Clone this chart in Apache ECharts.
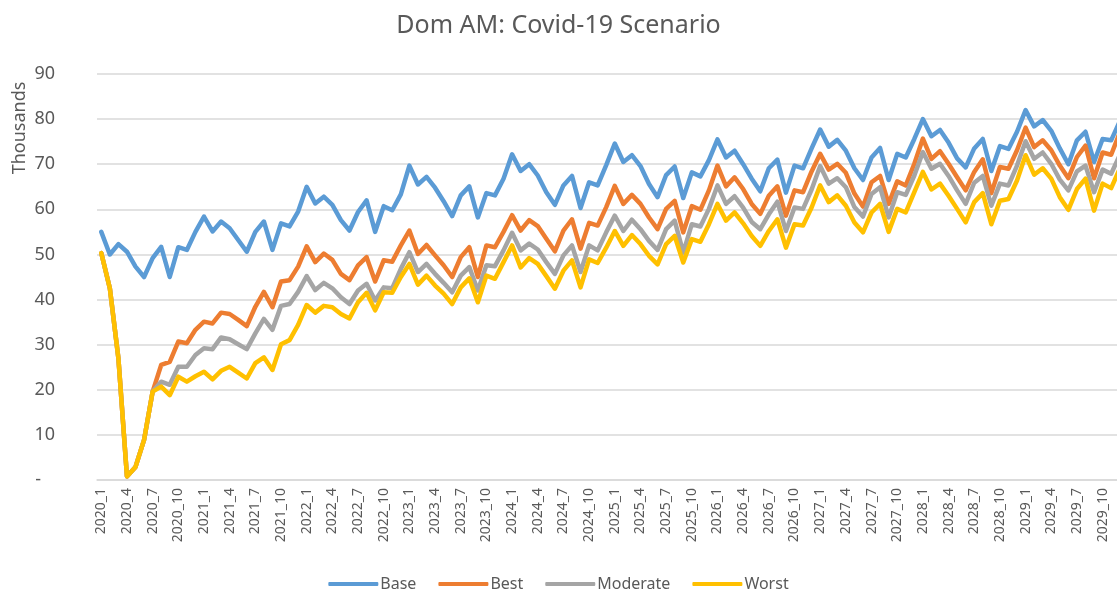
<!DOCTYPE html>
<html>
<head>
<meta charset="utf-8">
<title>Dom AM: Covid-19 Scenario</title>
<script src="https://cdn.jsdelivr.net/npm/echarts@6/dist/echarts.min.js"></script>
<style>
  html, body { margin: 0; padding: 0; background: #fff; }
  #main { width: 1117px; height: 592px; }
</style>
</head>
<body>
<div id="main"></div>
<script>
// monthly categories 2020_1 .. 2029_12
var months = [];
for (var y = 2020; y <= 2029; y++) {
    for (var m = 1; m <= 12; m++) months.push(y + '_' + m);
}

// values in thousands
var baseVals = [
    55, 50, 52.3, 50.6, 47.3, 45, 49.2, 51.7, 45, 51.6, 51, 55,
    58.4, 55.1, 57.3, 55.8, 53.2, 50.6, 55, 57.3, 51, 56.9, 56.2, 59.5,
    65, 61.3, 62.8, 61, 57.6, 55.3, 59.4, 62, 55, 60.7, 59.8, 63.3,
    69.7, 65.5, 67.2, 64.8, 61.8, 58.5, 63.1, 65.1, 58.2, 63.6, 63.1, 66.8,
    72.2, 68.5, 70, 67.5, 63.8, 61, 65.3, 67.4, 60.3, 66, 65.3, 69.8,
    74.6, 70.5, 72, 69.6, 65.6, 62.7, 67.6, 69.5, 62.5, 68.2, 67.3, 70.9,
    75.5, 71.5, 73, 70, 66.8, 64, 69.1, 71, 63.7, 69.7, 69.1, 73.5,
    77.7, 73.9, 75.4, 73, 69.1, 66.5, 71.5, 73.6, 66.5, 72.3, 71.5, 75.6,
    80, 76.2, 77.6, 74.8, 71.3, 69.3, 73.5, 75.6, 68.5, 74, 73.4, 77.2,
    82, 78.4, 79.8, 77.4, 73.5, 70, 75.3, 77.2, 70.5, 75.6, 75.3, 79.5
];
var bestVals = [
    50.3, 42.5, 27, 0.8, 2.9, 8.9, 19.6, 25.5, 26.2, 30.7, 30.3, 33.3,
    35.1, 34.7, 37.1, 36.8, 35.5, 34.1, 38.4, 41.7, 38.3, 44, 44.3, 47.3,
    51.8, 48.3, 50.2, 48.8, 45.7, 44.3, 47.6, 49.4, 44, 48.7, 48.4, 52,
    55.3, 50.1, 52.1, 49.8, 47.6, 45, 49.4, 51.6, 45, 52, 51.6, 55,
    58.7, 55.3, 57.6, 56.3, 53.5, 50.7, 55.3, 57.8, 51.3, 57, 56.4, 60.5,
    65.2, 61.2, 63.2, 61.2, 58.2, 55.6, 60.1, 61.9, 54.9, 60.7, 59.9, 64.2,
    69.7, 65.1, 67.1, 64.5, 61.2, 59, 63, 65.1, 58.6, 64.2, 63.8, 68.4,
    72.3, 68.8, 70.1, 68.1, 63.5, 60.6, 66, 67.4, 61.2, 66.2, 65.3, 70.1,
    75.7, 71.2, 72.9, 70.1, 67.1, 64.2, 68.3, 71.1, 63.6, 69.4, 69, 73.1,
    78.1, 73.8, 75.3, 73.1, 69.7, 66.9, 71.6, 74.1, 66.9, 72.6, 72.1, 77
];
var moderateVals = [
    50.3, 42.5, 27, 0.8, 2.9, 8.9, 19.6, 21.8, 21.1, 25.1, 25.1, 27.7,
    29.2, 29, 31.6, 31.2, 30.1, 29, 32.5, 35.7, 33.3, 38.6, 39, 41.7,
    45.2, 42.1, 43.7, 42.5, 40.5, 39, 42, 43.5, 39.8, 42.7, 42.5, 46.8,
    50.5, 46.1, 47.9, 45.7, 43.7, 41.6, 45.3, 47.2, 42, 47.6, 47.4, 50.9,
    54.8, 50.9, 52.4, 51.1, 48.3, 45.7, 49.8, 52, 46.1, 52, 50.9, 54.9,
    58.6, 55.2, 57.7, 55.6, 53, 51, 55.6, 57.5, 50.4, 56.7, 56.2, 60.1,
    65.3, 61.2, 62.9, 60.4, 57.2, 55.6, 58.9, 61.7, 55.2, 60.4, 60.1, 64.4,
    69.6, 65.7, 66.9, 64.9, 60.5, 58.4, 63.4, 64.9, 58.2, 63.8, 63.2, 67.5,
    72.7, 69, 70.1, 67.4, 64.2, 61.2, 65.9, 67.4, 60.8, 65.7, 65.3, 69.7,
    75.1, 71.2, 72.6, 70.1, 66.6, 64.2, 68.4, 69.7, 63.8, 68.8, 67.9, 72
];
var worstVals = [
    50.3, 42.5, 27, 0.8, 2.9, 8.9, 19.6, 20.7, 18.8, 22.9, 21.8, 23,
    24, 22.3, 24.2, 25.1, 23.8, 22.5, 25.9, 27.2, 24.4, 30.1, 31, 34.4,
    38.8, 37.1, 38.6, 38.3, 36.8, 35.8, 39.4, 41.5, 37.6, 41.6, 41.5, 45,
    47.9, 43.3, 45.3, 43.1, 41.3, 39, 42.7, 44.7, 39.4, 45.3, 44.6, 48.3,
    52, 47.1, 49.2, 47.9, 45.2, 42.4, 46.4, 48.7, 42.7, 48.9, 48.1, 51.5,
    55.2, 51.9, 54.3, 52.3, 49.7, 47.8, 52.3, 54.1, 48.2, 53.4, 52.8, 56.7,
    61.2, 57.5, 59.3, 56.9, 54.1, 51.9, 55.2, 57.8, 51.5, 56.7, 56.4, 60.4,
    65.3, 61.6, 63.1, 60.8, 57.1, 54.9, 59.3, 61.2, 55, 60.1, 59.3, 63.8,
    68.3, 64.4, 65.7, 63, 60.1, 57.1, 61.6, 63.6, 56.7, 61.9, 62.3, 66.4,
    72, 67.7, 69.1, 66.8, 62.7, 59.9, 64.5, 66.8, 59.7, 65.7, 64.7, 69
];

var seriesNames = ['Base', 'Best', 'Moderate', 'Worst'];
var seriesColors = ['#5B9BD5', '#ED7D31', '#A5A5A5', '#FFC000'];
var seriesData = [baseVals, bestVals, moderateVals, worstVals];

var font = "'Noto Sans', 'DejaVu Sans', sans-serif";
var txt = '#595959';

var myChart = echarts.init(document.getElementById('main'));

var option = {
    animation: false,
    backgroundColor: '#fff',
    title: {
        text: 'Dom AM: Covid-19 Scenario',
        left: 'center',
        top: 8,
        textStyle: { color: txt, fontSize: 25, fontWeight: 'normal', fontFamily: font }
    },
    legend: {
        bottom: -5,
        left: 'center',
        icon: 'roundRect',
        itemWidth: 50,
        itemHeight: 4,
        itemGap: 22,
        data: seriesNames,
        textStyle: { color: txt, fontSize: 16, fontFamily: font, padding: [0, 0, 0, -3] }
    },
    graphic: [{
        type: 'text',
        x: 20,
        y: 128,
        rotation: Math.PI / 2,
        style: {
            text: 'Thousands',
            fill: txt,
            font: '18px ' + font,
            align: 'center',
            verticalAlign: 'middle'
        }
    }],
    grid: {
        left: 97,
        right: -7,
        top: 74,
        bottom: 112,
        outerBoundsMode: 'none'
    },
    xAxis: {
        type: 'category',
        boundaryGap: true,
        data: months,
        axisLine: { lineStyle: { color: '#d9d9d9', width: 1.5 } },
        axisTick: { show: false },
        axisLabel: {
            interval: 2,
            rotate: 90,
            margin: 8,
            color: txt,
            fontSize: 14,
            fontFamily: font
        }
    },
    yAxis: {
        type: 'value',
        min: 0,
        max: 90,
        interval: 10,
        axisLine: { show: false },
        axisTick: { show: false },
        splitLine: { lineStyle: { color: '#d9d9d9', width: 1.5 } },
        axisLabel: {
            margin: 42,
            color: txt,
            fontSize: 18,
            fontFamily: font,
            formatter: function (v) { return v === 0 ? '-   ' : String(v); }
        }
    },
    series: []
};

for (var i = 0; i < seriesNames.length; i++) {
    option.series.push({
        name: seriesNames[i],
        type: 'line',
        data: seriesData[i],
        showSymbol: false,
        symbol: 'none',
        color: seriesColors[i],
        lineStyle: { width: 4.5, color: seriesColors[i], join: 'round', cap: 'round' }
    });
}

myChart.setOption(option);
</script>
</body>
</html>
